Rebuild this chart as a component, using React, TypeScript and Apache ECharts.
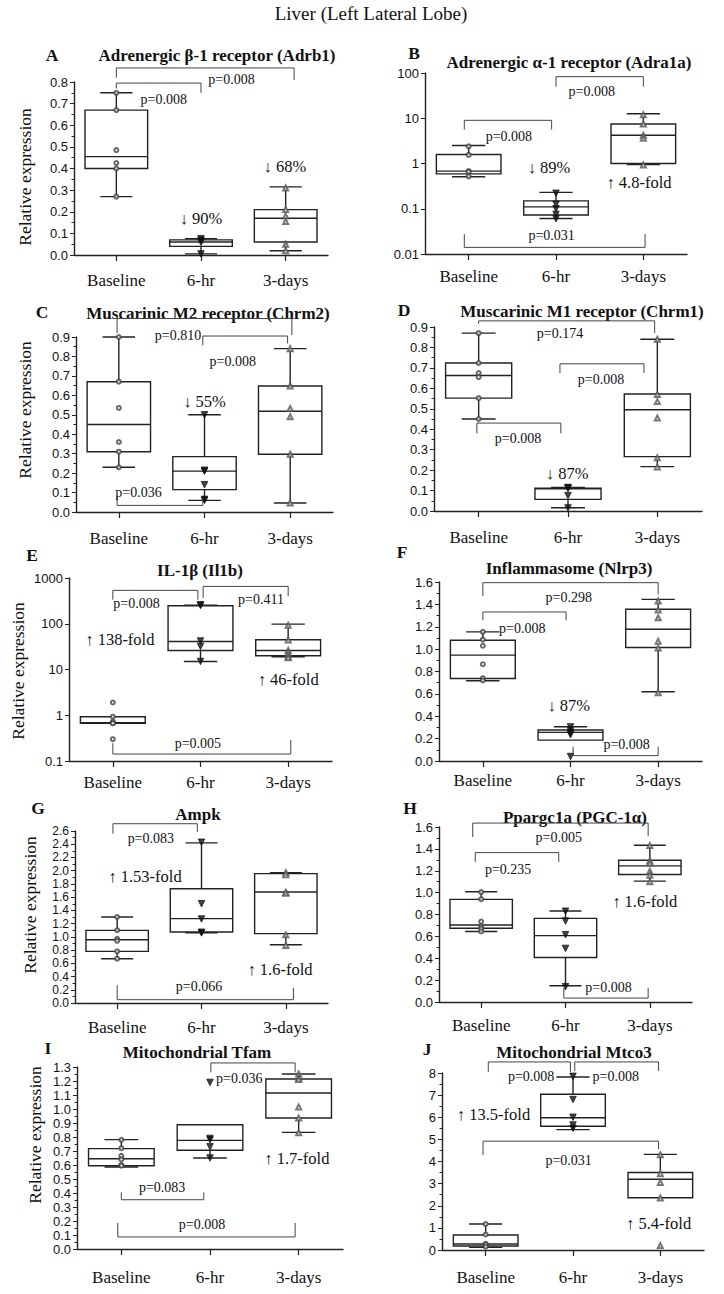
import React, { useEffect, useRef } from 'react';
import * as echarts from 'echarts';

const SERIF = '"Liberation Serif", "DejaVu Serif", serif';
const SANS = '"Liberation Sans", Arial, sans-serif';

const categories = ['Baseline', '6-hr', '3-days'];

// Box summaries per group: [min, Q1, median, Q3, max]
// A  Adrb1
const adrb1Box = [[0.27, 0.40, 0.455, 0.67, 0.75], [0.005, 0.04, 0.06, 0.07, 0.075], [0.02, 0.06, 0.17, 0.21, 0.315]];
const adrb1Baseline = [0.75, 0.67, 0.485, 0.425, 0.40, 0.27];
const adrb1Hr6 = [0.075, 0.068, 0.058, 0.005];
const adrb1Day3 = [0.31, 0.21, 0.18, 0.155, 0.05, 0.02];
const adrb1Brackets = [[0, 2.1, 0.865, 0.82, 0.81], [0, 1, 0.795, 0.77, 0.75]];
const adrb1NotePos = [[1.36, 0.81], [0.56, 0.72], [1.0, 0.17], [1.99, 0.41]];
const adrb1NoteText = ['p=0.008', 'p=0.008', '↓ 90%', '↓ 68%'];

// B  Adra1a (log)
const adra1aBox = [[0.51, 0.59, 0.68, 1.58, 2.5], [0.061, 0.073, 0.11, 0.149, 0.23], [0.95, 1.0, 4.2, 7.45, 12.6]];
const adra1aBaseline = [2.4, 1.55, 0.68, 0.66, 0.52];
const adra1aHr6 = [0.22, 0.125, 0.1, 0.075, 0.06];
const adra1aDay3 = [12, 7.5, 4.2, 3.6, 0.93];
const adra1aBrackets = [[1, 2, 83, 50, 50], [-0.05, 0.95, 9, 5.6, 5.6], [-0.05, 2.02, 0.014, 0.0275, 0.0275]];
const adra1aNotePos = [[1.41, 39], [0.46, 4], [0.95, 0.026], [0.92, 0.82], [1.95, 0.39]];
const adra1aNoteText = ['p=0.008', 'p=0.008', 'p=0.031', '↓ 89%', '↑ 4.8-fold'];

// C  Chrm2
const chrm2Box = [[0.23, 0.31, 0.45, 0.67, 0.90], [0.06, 0.115, 0.21, 0.285, 0.50], [0.046, 0.297, 0.518, 0.648, 0.84]];
const chrm2Baseline = [0.90, 0.67, 0.535, 0.36, 0.31, 0.23];
const chrm2Hr6 = [0.50, 0.215, 0.21, 0.14, 0.065, 0.06];
const chrm2Day3 = [0.84, 0.648, 0.532, 0.49, 0.297, 0.046];
const chrm2Brackets = [[-0.02, 2.02, 0.995, 0.92, 0.91], [0.98, 1.97, 0.905, 0.857, 0.867], [-0.02, 0.98, 0.034, 0.085, 0.06]];
const chrm2NotePos = [[0.69, 0.91], [1.33, 0.775], [0.23, 0.1], [1.0, 0.57]];
const chrm2NoteText = ['p=0.810', 'p=0.008', 'p=0.036', '↓ 55%'];

// D  Chrm1
const chrm1Box = [[0.45, 0.552, 0.663, 0.724, 0.87], [0.016, 0.057, 0.108, 0.111, 0.115], [0.217, 0.266, 0.495, 0.572, 0.84]];
const chrm1Baseline = [0.87, 0.724, 0.675, 0.655, 0.552, 0.45];
const chrm1Hr6 = [0.115, 0.113, 0.11, 0.075, 0.015];
const chrm1Day3 = [0.84, 0.57, 0.535, 0.455, 0.26, 0.215];
const chrm1Brackets = [[0, 1.97, 0.93, 0.915, 0.87], [0.91, 1.85, 0.72, 0.675, 0.675], [-0.02, 0.92, 0.43, 0.38, 0.38]];
const chrm1NotePos = [[0.91, 0.87], [1.37, 0.645], [0.44, 0.353], [0.99, 0.185]];
const chrm1NoteText = ['p=0.174', 'p=0.008', 'p=0.008', '↓ 87%'];

// E  Il1b (log)
const il1bBox = [[0.67, 0.67, 0.69, 0.93, 0.93], [15, 26, 41, 248, 255], [19, 20, 26, 44.7, 98]];
const il1bBaseline = [1.9, 0.93, 0.73, 0.67, 0.67, 0.3];
const il1bHr6 = [260, 250, 42, 32, 15];
const il1bDay3 = [93, 44, 26, 23, 19, 18];
const il1bBrackets = [[0, 0.97, 537, 335, 335], [1.03, 2.0, 655, 366, 398], [0, 2.03, 0.142, 0.244, 0.29]];
const il1bNotePos = [[0.27, 275], [1.69, 335], [0.97, 0.244], [0.08, 46], [2.0, 5.9]];
const il1bNoteText = ['p=0.008', 'p=0.411', 'p=0.005', '↑ 138-fold', '↑ 46-fold'];

// F  Nlrp3
const nlrp3Box = [[0.717, 0.737, 0.946, 1.08, 1.154], [0.187, 0.187, 0.256, 0.277, 0.306], [0.619, 1.014, 1.178, 1.356, 1.445]];
const nlrp3Baseline = [1.155, 1.085, 1.03, 0.865, 0.74, 0.72];
const nlrp3Hr6 = [0.305, 0.27, 0.25, 0.235, 0.04];
const nlrp3Day3 = [1.43, 1.35, 1.28, 1.07, 1.01, 0.61];
const nlrp3Brackets = [[0, 2.0, 1.594, 1.475, 1.49], [0, 0.95, 1.332, 1.258, 1.258], [1.03, 2.0, 0.048, 0.128, 0.128]];
const nlrp3NotePos = [[0.98, 1.457], [0.45, 1.184], [1.64, 0.149], [0.98, 0.5]];
const nlrp3NoteText = ['p=0.298', 'p=0.008', 'p=0.008', '↓ 87%'];

// G  Ampk
const ampkBox = [[0.67, 0.781, 0.957, 1.098, 1.30], [1.063, 1.073, 1.275, 1.728, 2.42], [0.88, 1.048, 1.678, 1.955, 1.97]];
const ampkBaseline = [1.30, 1.10, 0.97, 0.94, 0.78, 0.67];
const ampkHr6 = [2.43, 1.50, 1.27, 1.07, 1.06];
const ampkDay3 = [1.97, 1.94, 1.67, 1.66, 1.03, 0.87];
const ampkBrackets = [[-0.05, 0.95, 2.71, 2.56, 2.585], [0, 2.09, 0.05, 0.267, 0.227]];
const ampkNotePos = [[0.4, 2.484], [0.97, 0.252], [0.33, 1.905], [1.93, 0.504]];
const ampkNoteText = ['p=0.083', 'p=0.066', '↑ 1.53-fold', '↑ 1.6-fold'];

// H  Ppargc1a
const pgcBox = [[0.644, 0.674, 0.704, 0.938, 1.008], [0.149, 0.407, 0.607, 0.765, 0.832], [1.105, 1.166, 1.245, 1.296, 1.433]];
const pgcBaseline = [1.005, 0.94, 0.735, 0.69, 0.67, 0.645];
const pgcHr6 = [0.83, 0.74, 0.615, 0.49, 0.14];
const pgcDay3 = [1.43, 1.29, 1.27, 1.195, 1.16, 1.10];
const pgcBrackets = [[-0.1, 1.98, 1.636, 1.509, 1.515], [-0.07, 0.92, 1.366, 1.281, 1.281], [0.98, 1.98, 0.036, 0.128, 0.128]];
const pgcNotePos = [[0.92, 1.5], [0.32, 1.211], [1.51, 0.134], [1.94, 0.917]];
const pgcNoteText = ['p=0.005', 'p=0.235', 'p=0.008', '↑ 1.6-fold'];

// I  Tfam
const tfamBox = [[0.586, 0.595, 0.645, 0.717, 0.781], [0.65, 0.705, 0.776, 0.888, 0.888], [0.833, 0.936, 1.114, 1.214, 1.25]];
const tfamBaseline = [0.78, 0.72, 0.665, 0.64, 0.60, 0.595];
const tfamHr6 = [1.19, 0.79, 0.78, 0.73, 0.65];
const tfamDay3 = [1.25, 1.22, 1.21, 1.015, 0.935, 0.83];
const tfamBrackets = [[1.01, 1.96, 1.329, 1.262, 1.262], [0, 0.93, 0.352, 0.405, 0.405], [-0.04, 1.96, 0.086, 0.186, 0.186]];
const tfamNotePos = [[1.33, 1.221], [0.46, 0.44], [0.91, 0.174], [1.98, 0.645]];
const tfamNoteText = ['p=0.036', 'p=0.083', 'p=0.008', '↑ 1.7-fold'];

// J  Mtco3
const mtco3Box = [[0.12, 0.18, 0.27, 0.677, 1.173], [5.44, 5.59, 5.98, 7.04, 7.82], [2.36, 2.36, 3.2, 3.5, 4.32]];
const mtco3Baseline = [1.17, 0.70, 0.28, 0.25, 0.15];
const mtco3Hr6 = [7.85, 6.8, 6.0, 5.65, 5.5];
const mtco3Day3 = [4.3, 3.45, 3.05, 2.35, 0.2];
const mtco3Brackets = [[0.03, 0.97, 8.5, 8.05, 8.05], [1.02, 1.98, 8.5, 8.09, 8.09], [-0.03, 1.98, 4.92, 4.29, 4.56]];
const mtco3NotePos = [[0.52, 7.82], [1.49, 7.82], [0.95, 4.06], [0.09, 6.12], [1.98, 1.2]];
const mtco3NoteText = ['p=0.008', 'p=0.008', 'p=0.031', '↑ 13.5-fold', '↑ 5.4-fold'];

// Panel layout (positions/sizes only)
const panels = [
  { letter: 'A', title: 'Adrenergic β-1 receptor (Adrb1)', box: adrb1Box, pts: [adrb1Baseline, adrb1Hr6, adrb1Day3], brackets: adrb1Brackets, notePos: adrb1NotePos, noteText: adrb1NoteText,
    grid: { left: 74, top: 82, width: 254, height: 173 }, log: false, min: 0, max: 0.8, interval: 0.1, dec: 1, fs: 13, xMargin: 17,
    letterPos: [52, 55], titlePos: [217, 55], yName: [25, 177] },
  { letter: 'B', title: 'Adrenergic α-1 receptor (Adra1a)', box: adra1aBox, pts: [adra1aBaseline, adra1aHr6, adra1aDay3], brackets: adra1aBrackets, notePos: adra1aNotePos, noteText: adra1aNoteText,
    grid: { left: 425, top: 73, width: 262, height: 181 }, log: true, min: 0.01, max: 100, fs: 13, xMargin: 14,
    letterPos: [414, 53], titlePos: [569, 62], yName: null },
  { letter: 'C', title: 'Muscarinic M2 receptor (Chrm2)', box: chrm2Box, pts: [chrm2Baseline, chrm2Hr6, chrm2Day3], brackets: chrm2Brackets, notePos: chrm2NotePos, noteText: chrm2NoteText,
    grid: { left: 76, top: 337, width: 257, height: 175 }, log: false, min: 0, max: 0.9, interval: 0.1, dec: 1, fs: 13, xMargin: 18,
    letterPos: [42, 312], titlePos: [208, 313], yName: [25, 410] },
  { letter: 'D', title: 'Muscarinic M1 receptor (Chrm1)', box: chrm1Box, pts: [chrm1Baseline, chrm1Hr6, chrm1Day3], brackets: chrm1Brackets, notePos: chrm1NotePos, noteText: chrm1NoteText,
    grid: { left: 434, top: 327, width: 268, height: 184 }, log: false, min: 0, max: 0.9, interval: 0.1, dec: 1, fs: 13, xMargin: 18,
    letterPos: [404, 310], titlePos: [582, 311], yName: null },
  { letter: 'E', title: 'IL-1β (Il1b)', box: il1bBox, pts: [il1bBaseline, il1bHr6, il1bDay3], brackets: il1bBrackets, notePos: il1bNotePos, noteText: il1bNoteText,
    grid: { left: 69, top: 578, width: 263, height: 183 }, log: true, min: 0.1, max: 1000, fs: 13, xMargin: 13,
    letterPos: [32, 555], titlePos: [200, 570], yName: [18, 671] },
  { letter: 'F', title: 'Inflammasome (Nlrp3)', box: nlrp3Box, pts: [nlrp3Baseline, nlrp3Hr6, nlrp3Day3], brackets: nlrp3Brackets, notePos: nlrp3NotePos, noteText: nlrp3NoteText,
    grid: { left: 439, top: 582, width: 263, height: 179 }, log: false, min: 0, max: 1.6, interval: 0.2, dec: 1, fs: 13, xMargin: 11,
    letterPos: [402, 552], titlePos: [569, 568], yName: null },
  { letter: 'G', title: 'Ampk', box: ampkBox, pts: [ampkBaseline, ampkHr6, ampkDay3], brackets: ampkBrackets, notePos: ampkNotePos, noteText: ampkNoteText,
    grid: { left: 75, top: 831, width: 253, height: 172 }, log: false, min: 0, max: 2.6, interval: 0.2, dec: 1, fs: 12, xMargin: 16,
    letterPos: [38, 808], titlePos: [198, 814], yName: [30, 905] },
  { letter: 'H', title: 'Ppargc1a (PGC-1α)', box: pgcBox, pts: [pgcBaseline, pgcHr6, pgcDay3], brackets: pgcBrackets, notePos: pgcNotePos, noteText: pgcNoteText,
    grid: { left: 439, top: 827, width: 253, height: 175 }, log: false, min: 0, max: 1.6, interval: 0.2, dec: 1, fs: 13, xMargin: 15,
    letterPos: [410, 808], titlePos: [575, 817], yName: null },
  { letter: 'I', title: 'Mitochondrial Tfam', box: tfamBox, pts: [tfamBaseline, tfamHr6, tfamDay3], brackets: tfamBrackets, notePos: tfamNotePos, noteText: tfamNoteText,
    grid: { left: 77, top: 1067, width: 266, height: 182 }, log: false, min: 0, max: 1.3, interval: 0.1, dec: 1, fs: 13, xMargin: 20,
    letterPos: [48, 1048], titlePos: [197, 1052], yName: [35, 1135] },
  { letter: 'J', title: 'Mitochondrial Mtco3', box: mtco3Box, pts: [mtco3Baseline, mtco3Hr6, mtco3Day3], brackets: mtco3Brackets, notePos: mtco3NotePos, noteText: mtco3NoteText,
    grid: { left: 442, top: 1073, width: 262, height: 177 }, log: false, min: 0, max: 8, interval: 1, dec: 0, fs: 13, xMargin: 19,
    letterPos: [427, 1049], titlePos: [574, 1052], yName: null },
];

const LINE = '#222';

function txt(text: string, size: number, weight: string = 'normal', family: string = SERIF) {
  return { text, fontSize: size, fontWeight: weight, fontFamily: family, fill: '#111', align: 'center', verticalAlign: 'middle', textAlign: 'center', textVerticalAlign: 'middle' };
}

function boxRender(params: any, api: any) {
  const x = api.value(0);
  const mn = api.value(1), q1 = api.value(2), md = api.value(3), q3 = api.value(4), mx = api.value(5);
  const unit = api.coord([x + 0.5, md])[0] - api.coord([x - 0.5, md])[0];
  const bw = unit * 0.74, cw = unit * 0.38;
  const pMn = api.coord([x, mn]), pQ1 = api.coord([x, q1]), pMd = api.coord([x, md]), pQ3 = api.coord([x, q3]), pMx = api.coord([x, mx]);
  const cx = pMd[0];
  const st = { stroke: LINE, lineWidth: 1.4, fill: null };
  const kids: any[] = [];
  if (mx > q3) {
    kids.push({ type: 'line', shape: { x1: cx, y1: pMx[1], x2: cx, y2: pQ3[1] }, style: st });
    kids.push({ type: 'line', shape: { x1: cx - cw / 2, y1: pMx[1], x2: cx + cw / 2, y2: pMx[1] }, style: st });
  }
  if (mn < q1) {
    kids.push({ type: 'line', shape: { x1: cx, y1: pQ1[1], x2: cx, y2: pMn[1] }, style: st });
    kids.push({ type: 'line', shape: { x1: cx - cw / 2, y1: pMn[1], x2: cx + cw / 2, y2: pMn[1] }, style: st });
  }
  kids.push({ type: 'rect', shape: { x: cx - bw / 2, y: pQ3[1], width: bw, height: pQ1[1] - pQ3[1] }, style: { stroke: LINE, lineWidth: 1.4, fill: '#fff' } });
  kids.push({ type: 'line', shape: { x1: cx - bw / 2, y1: pMd[1], x2: cx + bw / 2, y2: pMd[1] }, style: st });
  return { type: 'group', children: kids };
}

function bracketRender(params: any, api: any) {
  const x1 = api.value(0), x2 = api.value(1), y = api.value(2), yl = api.value(3), yr = api.value(4);
  const a = api.coord([x1, yl]), b = api.coord([x1, y]), c = api.coord([x2, y]), d = api.coord([x2, yr]);
  return { type: 'polyline', shape: { points: [a, b, c, d] }, style: { stroke: '#444', lineWidth: 1, fill: null } };
}

function logLabel(v: number) {
  const e = Math.round(Math.log10(v));
  return e < 0 ? v.toFixed(-e) : String(Math.round(v));
}

function buildOption() {
  const grid: any[] = [];
  const xAxis: any[] = [];
  const yAxis: any[] = [];
  const series: any[] = [];
  const graphic: any[] = [];

  graphic.push({ type: 'text', x: 371, y: 13, style: txt('Liver (Left Lateral Lobe)', 19) });

  panels.forEach((p, i) => {
    grid.push({ ...p.grid, containLabel: false });
    xAxis.push({
      type: 'category', gridIndex: i, data: categories, boundaryGap: true,
      axisLine: { show: true, lineStyle: { color: LINE, width: 1.4 } },
      axisTick: { show: true, alignWithLabel: true, length: 6, lineStyle: { color: LINE, width: 1.2 } },
      axisLabel: { show: true, margin: p.xMargin, fontFamily: SERIF, fontSize: 17, color: '#111' },
      splitLine: { show: false },
    });
    xAxis.push({ type: 'value', gridIndex: i, min: -0.5, max: 2.5, show: false });
    const yBase: any = {
      gridIndex: i, min: p.min, max: p.max,
      axisLine: { show: true, onZero: false, lineStyle: { color: LINE, width: 1.4 } },
      axisTick: { show: true, inside: false, length: 4, lineStyle: { color: LINE, width: 1 } },
      axisLabel: { show: true, margin: 6, fontFamily: SANS, fontSize: p.fs, color: '#111' },
      splitLine: { show: false },
    };
    if (p.log) {
      yAxis.push({ ...yBase, type: 'log', logBase: 10, axisLabel: { ...yBase.axisLabel, formatter: logLabel } });
    } else {
      const dec = p.dec;
      yAxis.push({ ...yBase, type: 'value', interval: p.interval,
        minorTick: { show: true, splitNumber: 2, length: 2.5, lineStyle: { color: LINE, width: 1 } },
        axisLabel: { ...yBase.axisLabel, formatter: (v: number) => v.toFixed(dec) } });
    }
    const xi = i * 2 + 1;

    series.push({
      type: 'custom', xAxisIndex: xi, yAxisIndex: i, z: 2,
      renderItem: boxRender,
      encode: { x: 0, y: [1, 2, 3, 4, 5] },
      data: p.box.map((b, k) => [k, ...b]),
    });

    const symbols = [
      { symbol: 'emptyCircle', size: 4, color: '#444', rotate: 0 },
      { symbol: 'triangle', size: 6.5, color: '#111', rotate: 180 },
      { symbol: 'emptyTriangle', size: 5, color: '#555', rotate: 0 },
    ];
    p.pts.forEach((arr, k) => {
      const s = symbols[k];
      series.push({
        type: 'scatter', xAxisIndex: xi, yAxisIndex: i, z: 3,
        symbol: s.symbol, symbolSize: s.size, symbolRotate: s.rotate,
        itemStyle: { color: s.color, borderColor: s.color, borderWidth: 0.9 },
        data: arr.map((v) => [k, v]),
      });
    });

    series.push({
      type: 'custom', xAxisIndex: xi, yAxisIndex: i, z: 4,
      renderItem: bracketRender,
      encode: { x: [0, 1], y: [2, 3, 4] },
      data: p.brackets,
    });

    const texts = p.noteText;
    series.push({
      type: 'custom', xAxisIndex: xi, yAxisIndex: i, z: 5,
      renderItem: (params: any, api: any) => {
        const pt = api.coord([api.value(0), api.value(1)]);
        const t = texts[params.dataIndex];
        const fs = t.startsWith('p=') ? 14 : 16.5;
        return { type: 'text', x: pt[0], y: pt[1], style: txt(t, fs) };
      },
      encode: { x: 0, y: 1 },
      data: p.notePos,
    });

    graphic.push({ type: 'text', x: p.letterPos[0], y: p.letterPos[1], style: txt(p.letter, 17.5, 'bold') });
    graphic.push({ type: 'text', x: p.titlePos[0], y: p.titlePos[1], style: txt(p.title, 17, 'bold') });
    if (p.yName) {
      graphic.push({ type: 'text', x: p.yName[0], y: p.yName[1], rotation: Math.PI / 2, style: txt('Relative expression', 17.5) });
    }
  });

  return { animation: false, backgroundColor: '#fff', grid, xAxis, yAxis, series, graphic };
}

export default function App() {
  const ref = useRef<HTMLDivElement>(null);
  useEffect(() => {
    document.body.style.margin = '0';
    document.body.style.overflow = 'hidden';
    const chart = echarts.init(ref.current!, undefined, { renderer: 'svg' });
    chart.setOption(buildOption() as any);
    return () => chart.dispose();
  }, []);
  return <div ref={ref} style={{ width: 724, height: 1294 }} />;
}
